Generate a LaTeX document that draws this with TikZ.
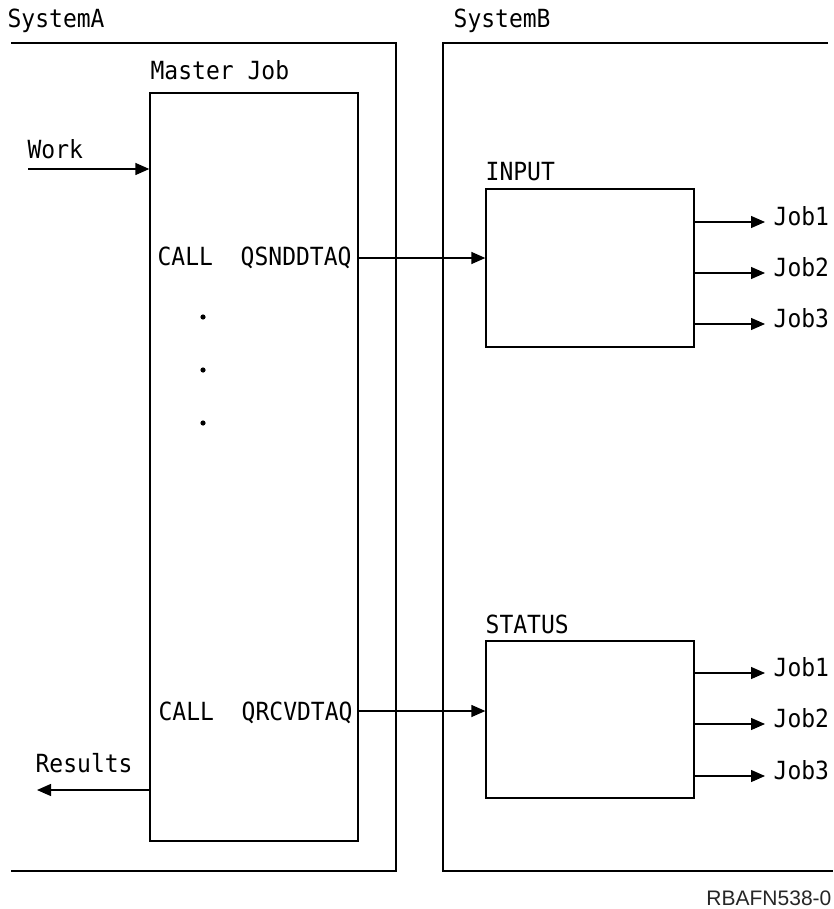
\documentclass[tikz,border=0pt]{standalone}
\usepackage{fontspec}
\usetikzlibrary{arrows.meta}
\newfontfamily\ibmmono[FakeStretch=0.92]{DejaVu Sans Mono}
\newfontfamily\figfont{Liberation Sans}

\begin{document}
\begin{tikzpicture}[x=1pt, y=-1pt, line width=1.3pt,
    box/.style = {draw, rectangle, inner sep=0pt},
    lbl/.style = {inner sep=0pt, anchor=base west, font=\ibmmono\fontsize{25}{29}\selectfont},
    job/.style = {inner sep=0pt, anchor=west, text height=0.73em, text depth=0pt, font=\ibmmono\fontsize{25}{29}\selectfont},
    arr/.style = {-{Triangle[length=14pt, width=12pt]}}]
    \useasboundingbox (0,0) rectangle (833,909);

    % system frames
    \draw (11,43) -- (396,43) -- (396,871) -- (11,871);
    \draw (828,43) -- (443,43) -- (443,871) -- (833,871);
    \node[lbl] (sysA) at (7,28) {SystemA};
    \node[lbl] (sysB) at (453,28) {SystemB};

    % master job on SystemA
    \node[box, minimum width=208pt, minimum height=748pt] (master) at (254,467) {};
    \node[lbl] (masterlbl) at (150,80) {Master Job};
    \node[lbl] (work) at (27,159) {Work};
    \coordinate (workin) at (28,169);
    \draw[arr] (workin) -- (workin -| master.west);
    \node[lbl] (snd) at (157,265) {CALL\ \ QSNDDTAQ};
    \node[lbl] (rcv) at (158,720) {CALL\ \ QRCVDTAQ};
    \foreach \y in {317,370,423}
        \fill (203,\y) circle (2.6pt);
    \node[lbl] (results) at (35,772) {Results};
    \coordinate (resout) at (37,790);
    \draw[arr] (resout -| master.west) -- (resout);

    % data queues on SystemB
    \node[box, minimum width=208pt, minimum height=158pt] (input) at (590,268) {};
    \node[lbl] (inputlbl) at (485,181) {INPUT};
    \node[box, minimum width=208pt, minimum height=157pt] (status) at (590,719.5) {};
    \node[lbl] (statuslbl) at (485,633) {STATUS};

    \coordinate (sndq) at (358,258);
    \draw[arr] (sndq) -- (sndq -| input.west);
    \coordinate (rcvq) at (358,711);
    \draw[arr] (rcvq) -- (rcvq -| status.west);

    % jobs
    \foreach \i/\y in {1/222,2/273,3/324} {
        \node[job] (ij\i) at (773,\y) {Job\i};
        \draw[arr, shorten >=8pt] (input.east |- ij\i.west) -- (ij\i.west);
    }
    \foreach \i/\y in {1/673,2/724,3/776} {
        \node[job] (sj\i) at (773,\y) {Job\i};
        \draw[arr, shorten >=8pt] (status.east |- sj\i.west) -- (sj\i.west);
    }

    \node[inner sep=0pt, anchor=base east, text=black!85, font=\figfont\fontsize{21}{25}\selectfont] (figid) at (832,905) {RBAFN538-0};
\end{tikzpicture}
\end{document}
